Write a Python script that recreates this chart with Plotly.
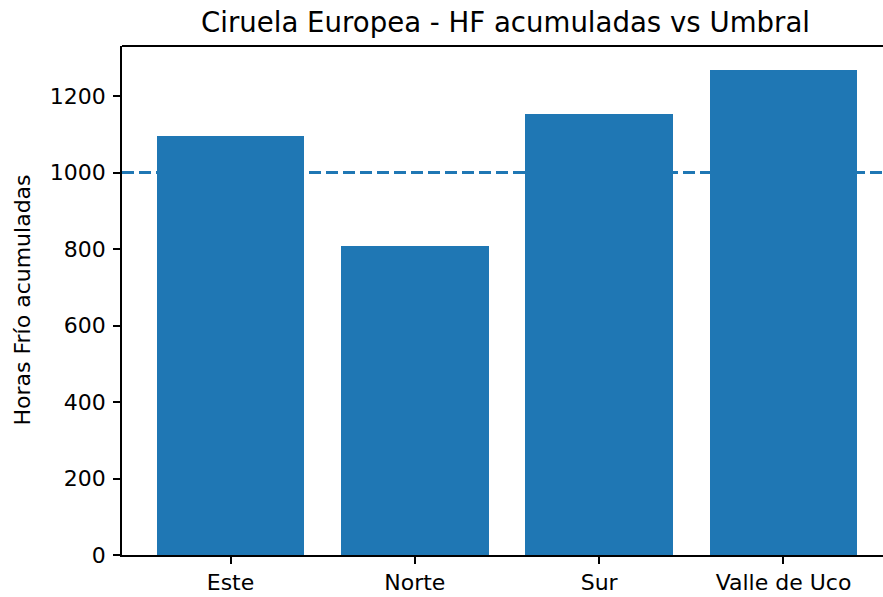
import plotly.graph_objects as go

regiones = ["Este", "Norte", "Sur", "Valle de Uco"]
horas_frio = [1095, 807, 1153, 1268]
umbral = 1000
y_ticks = [0, 200, 400, 600, 800, 1000, 1200]

L, R, T, B = 122, 0, 46, 42
W, H = 883, 597
plot_w = W - L - R

fig = go.Figure()
fig.add_trace(go.Bar(
    x=list(range(len(regiones))), y=horas_frio, width=0.8,
    marker=dict(color="#1f77b4", line=dict(width=0)),
    showlegend=False,
))

fig.add_shape(type="line", xref="paper", x0=0, x1=1, yref="y", y0=umbral, y1=umbral,
              line=dict(color="#1f77b4", width=3, dash="12px,5px"), layer="below")
# top spine
fig.add_shape(type="line", xref="paper", x0=0, x1=1, yref="paper", y0=1, y1=1,
              line=dict(color="black", width=1.8))

x0 = -0.5886
fig.update_layout(
    width=W, height=H,
    margin=dict(l=L, r=R, t=T, b=B),
    paper_bgcolor="white", plot_bgcolor="white",
    font=dict(family="DejaVu Sans", size=22, color="black"),
    bargap=0,
    xaxis=dict(
        range=[x0, x0 + plot_w / 184.33],
        tickvals=list(range(len(regiones))), ticktext=regiones,
        showgrid=False, zeroline=False, showline=True, linecolor="black", linewidth=1.8,
        ticks="outside", ticklen=7, tickwidth=1.8, tickcolor="black",
        tickfont=dict(size=22),
    ),
    yaxis=dict(
        range=[0, 1331],
        tickvals=y_ticks,
        showgrid=False, zeroline=False, showline=True, linecolor="black", linewidth=1.8,
        ticks="outside", ticklen=7, tickwidth=1.8, tickcolor="black",
        tickfont=dict(size=22), ticklabelstandoff=3,
    ),
    annotations=[
        dict(text="Ciruela Europea - HF acumuladas vs Umbral", xref="paper", yref="paper",
             x=(505 - L) / plot_w, y=1, yshift=24, showarrow=False,
             font=dict(size=27.6), xanchor="center", yanchor="middle"),
        dict(text="Horas Frío acumuladas", xref="paper", yref="paper",
             x=0, xshift=-100, y=0.5, textangle=-90, showarrow=False,
             font=dict(size=22), xanchor="center", yanchor="middle"),
    ],
)

fig.write_html("out.html", config={"displayModeBar": False},
               post_script="document.body.style.margin='0';document.body.style.overflow='hidden';")
